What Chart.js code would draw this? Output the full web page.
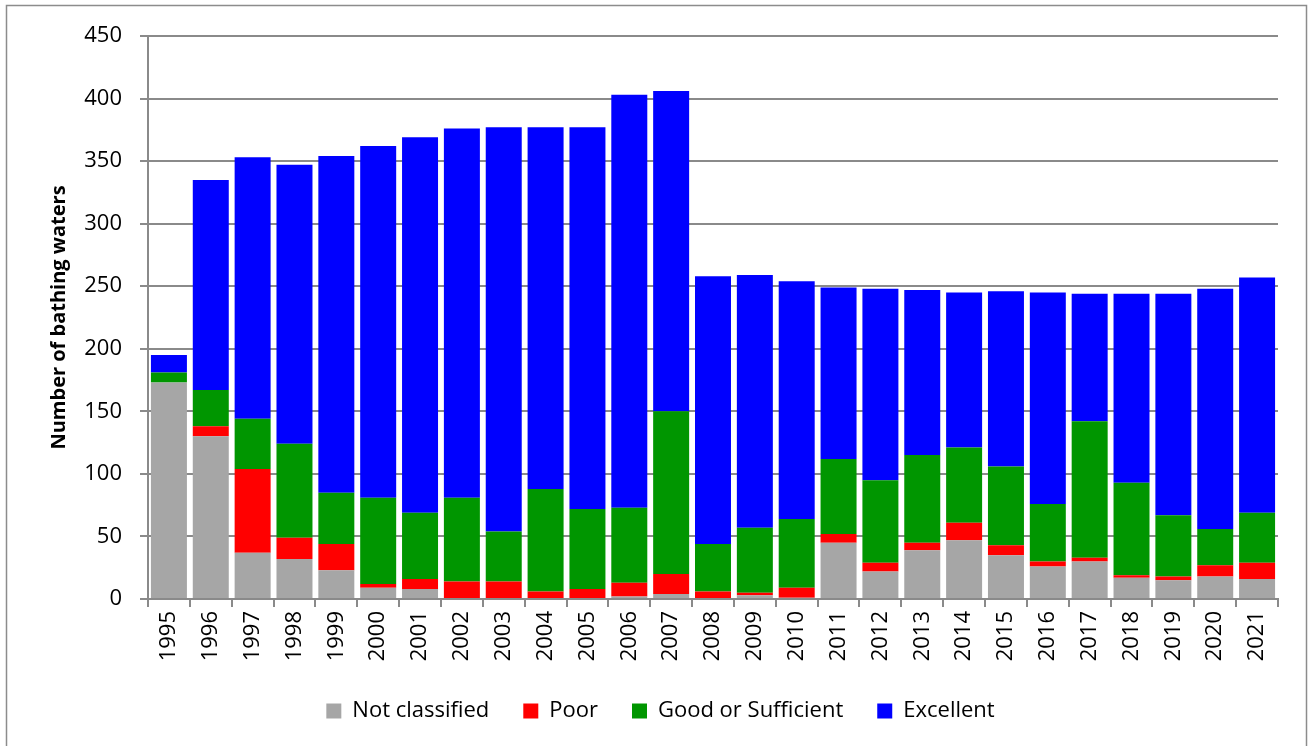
<!DOCTYPE html>
<html>
<head>
<meta charset="utf-8">
<script src="https://cdn.jsdelivr.net/npm/chart.js@4"></script>
<style>
  html, body { margin: 0; padding: 0; background: #fff; }
  #wrap { position: relative; width: 1309px; height: 746px; }
</style>
</head>
<body>
<div id="wrap"><canvas id="chart"></canvas></div>
<script>
const YEARS = [
  "1995", "1996", "1997", "1998", "1999", "2000", "2001", "2002", "2003",
  "2004", "2005", "2006", "2007", "2008", "2009", "2010", "2011", "2012",
  "2013", "2014", "2015", "2016", "2017", "2018", "2019", "2020", "2021",
];
const NOT_CLASSIFIED = [173, 130, 37, 32, 23, 9, 8, 0, 0, 0, 0, 2, 4, 0, 3, 1, 45, 22, 39, 47, 35, 26, 30, 17, 15, 18, 16];
const POOR = [0, 8, 67, 17, 21, 3, 8, 14, 14, 6, 8, 11, 16, 6, 2, 8, 7, 7, 6, 14, 8, 4, 3, 2, 3, 9, 13];
const GOOD_OR_SUFFICIENT = [8, 29, 40, 75, 41, 69, 53, 67, 40, 82, 64, 60, 130, 38, 52, 55, 60, 66, 70, 60, 63, 46, 109, 74, 49, 29, 40];
const EXCELLENT = [14, 168, 209, 223, 269, 281, 300, 295, 323, 289, 305, 330, 256, 214, 202, 190, 137, 153, 132, 124, 140, 169, 102, 151, 177, 192, 188];

const FONT = "'Open Sans', 'DejaVu Sans', sans-serif";
const GRID = "#8a8a8a";

const frame = {
  id: "frame",
  beforeDraw(chart) {
    const { ctx } = chart;
    ctx.save();
    ctx.fillStyle = "#fff";
    ctx.fillRect(0, 0, chart.width, chart.height);
    ctx.strokeStyle = "#8c8c8c";
    ctx.lineWidth = 1.5;
    ctx.strokeRect(6.5, 5.5, 1300, 760);
    ctx.restore();
  },
};

const series = [
  { label: "Not classified", data: NOT_CLASSIFIED, color: "#a6a6a6" },
  { label: "Poor", data: POOR, color: "#ff0000" },
  { label: "Good or Sufficient", data: GOOD_OR_SUFFICIENT, color: "#009600" },
  { label: "Excellent", data: EXCELLENT, color: "#0000ff" },
];

new Chart(document.getElementById("chart"), {
  type: "bar",
  data: {
    labels: YEARS,
    datasets: series.map(({ label, data, color }) => ({
      label,
      data,
      backgroundColor: color,
      borderWidth: 0,
      barPercentage: 0.86,
      categoryPercentage: 1,
    })),
  },
  options: {
    responsive: true,
    maintainAspectRatio: false,
    animation: false,
    layout: { padding: { left: 43, right: 31, top: 36, bottom: 14 } },
    plugins: {
      tooltip: { enabled: false },
      legend: {
        position: "bottom",
        labels: {
          boxWidth: 15,
          boxHeight: 15,
          padding: 34,
          color: "#000",
          font: { family: FONT, size: 22 },
        },
      },
    },
    scales: {
      x: {
        stacked: true,
        afterFit: (scale) => { scale.height = 67; },
        grid: { drawOnChartArea: false, color: GRID, lineWidth: 2, tickLength: 8 },
        border: { color: GRID, width: 2 },
        ticks: {
          color: "#000",
          font: { family: FONT, size: 22 },
          minRotation: 90,
          maxRotation: 90,
          padding: 4,
          autoSkip: false,
        },
      },
      y: {
        stacked: true,
        min: 0,
        max: 450,
        afterFit: (scale) => { scale.width = 105; },
        grid: { color: GRID, lineWidth: 2, tickLength: 8 },
        border: { color: GRID, width: 2 },
        ticks: {
          stepSize: 50,
          color: "#000",
          padding: 18,
          font: { family: FONT, size: 22 },
        },
        title: {
          display: true,
          text: "Number of bathing waters",
          color: "#000",
          font: { family: FONT, size: 20, weight: "bold" },
        },
      },
    },
  },
  plugins: [frame],
});
</script>
</body>
</html>
